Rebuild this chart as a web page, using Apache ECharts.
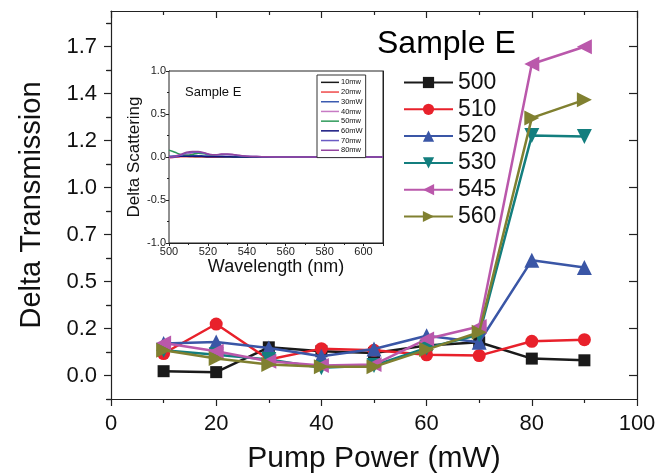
<!DOCTYPE html>
<html>
<head>
<meta charset="utf-8">
<script src="https://cdn.jsdelivr.net/npm/echarts@6/dist/echarts.min.js"></script>
<style>
html,body{margin:0;padding:0;background:#fff;}
#chart{width:659px;height:473px;}
</style>
</head>
<body>
<div id="chart"></div>
<script>
// ---- Main chart data ----
const powers = [10, 20, 30, 40, 50, 60, 70, 80, 90];
const seriesNames = ['500', '510', '520', '530', '545', '560'];
const s500 = [0.023, 0.018, 0.150, 0.129, 0.120, 0.160, 0.177, 0.090, 0.081];
const s510 = [0.117, 0.274, 0.085, 0.143, 0.134, 0.110, 0.106, 0.182, 0.191];
const s520 = [0.170, 0.178, 0.147, 0.102, 0.141, 0.212, 0.177, 0.613, 0.575];
const s530 = [0.134, 0.111, 0.085, 0.041, 0.053, 0.147, 0.217, 1.277, 1.272];
const s545 = [0.173, 0.129, 0.076, 0.053, 0.058, 0.194, 0.261, 1.658, 1.750];
const s560 = [0.134, 0.090, 0.058, 0.046, 0.046, 0.138, 0.230, 1.371, 1.467];
const yTickValues = [0, 0.25, 0.5, 0.75, 1.0, 1.25, 1.5, 1.75];
const yTickLabels = ['0.0', '0.2', '0.5', '0.7', '1.0', '1.2', '1.4', '1.7'];
const yMinorValues = [-0.125, 0.125, 0.375, 0.625, 0.875, 1.125, 1.375, 1.625, 1.875];

// ---- Inset data ----
const wavelengths = [500, 503, 506, 509, 512, 515, 518, 521, 524, 527, 530, 533, 536, 540, 545, 550, 560, 570, 580, 590, 600, 610];
const insetNames = ['10mw', '20mw', '30mW', '40mw', '50mw', '60mW', '70mw', '80mw'];
const i10 = [0.000, 0.005, 0.008, 0.008, 0.005, 0.003, 0.002, 0, 0, 0, 0, 0, 0, 0, 0, 0, 0, 0, 0, 0, 0, 0];
const i20 = [-0.010, -0.004, 0.002, 0.004, 0.004, 0.003, 0.002, 0.001, 0, 0, 0, 0, 0, 0, 0, 0, 0, 0, 0, 0, 0, 0];
const i30 = [0.010, 0.012, 0.015, 0.018, 0.018, 0.015, 0.012, 0.010, 0.008, 0.008, 0.007, 0.005, 0.003, 0.002, 0, 0, 0, 0, 0, 0, 0, 0];
const i40 = [-0.010, 0.000, 0.012, 0.030, 0.045, 0.050, 0.045, 0.030, 0.025, 0.030, 0.030, 0.025, 0.018, 0.010, 0.005, 0.002, 0, 0, 0, 0, 0, 0];
const i50 = [0.080, 0.055, 0.030, 0.020, 0.030, 0.045, 0.038, 0.020, 0.010, 0.006, 0.003, 0.002, 0, 0, 0, 0, 0, 0, 0, 0, 0, 0];
const i60 = [0.000, 0.004, 0.008, 0.010, 0.010, 0.010, 0.006, 0.004, 0.003, 0.003, 0.002, 0.001, 0, 0, 0, 0, 0, 0, 0, 0, 0, 0];
const i70 = [0.000, 0.006, 0.020, 0.045, 0.055, 0.055, 0.045, 0.025, 0.025, 0.030, 0.030, 0.025, 0.015, 0.010, 0.005, 0.002, 0, 0, 0, 0, 0, 0];
const i80 = [0.000, 0.010, 0.030, 0.055, 0.065, 0.065, 0.050, 0.030, 0.025, 0.035, 0.035, 0.030, 0.020, 0.010, 0.005, 0.002, 0, 0, 0, 0, 0, 0];

const mainColors = ['#1a1a1a', '#e8212b', '#3a56a6', '#137e7e', '#ba58ab', '#808030'];
const mainSymbols = ['rect', 'circle', 'triangle', 'triangle', 'triangle', 'triangle'];
const mainRot = [0, 0, 0, 180, 90, -90];
const mainSizes = [12, 13, 15, 15, 15, 15];
const mainData = [s500, s510, s520, s530, s545, s560];

const insetColors = ['#1a1a1a', '#ef4a4a', '#3b5bb0', '#c77ac4', '#2e9a5a', '#14147e', '#6b5cc4', '#93449f'];
const insetData = [i10, i20, i30, i40, i50, i60, i70, i80];

const FONT = 'Liberation Sans, Arial, sans-serif';
const axisColor = '#222';

const chart = echarts.init(document.getElementById('chart'), null, {renderer: 'canvas'});

const series = [];
mainData.forEach((arr, k) => {
  series.push({
    name: seriesNames[k],
    type: 'line',
    xAxisIndex: 0, yAxisIndex: 0,
    data: powers.map((p, i) => [p, arr[i]]),
    symbol: mainSymbols[k],
    symbolRotate: mainRot[k],
    symbolSize: mainSizes[k],
    lineStyle: {color: mainColors[k], width: 2.5},
    itemStyle: {color: mainColors[k]},
    emphasis: {disabled: true},
    z: 3 + k
  });
});
insetData.forEach((arr, k) => {
  series.push({
    name: insetNames[k],
    type: 'line',
    xAxisIndex: 2, yAxisIndex: 4,
    data: wavelengths.map((w, i) => [w, arr[i]]),
    symbol: 'none',
    smooth: 0.4,
    lineStyle: {color: insetColors[k], width: 1.5},
    itemStyle: {color: insetColors[k]},
    emphasis: {disabled: true},
    z: 3
  });
});

const option = {
  animation: false,
  backgroundColor: '#fff',
  textStyle: {fontFamily: FONT},
  grid: [
    {left: 111, top: 11, right: 22, bottom: 74, outerBoundsMode: 'none', containLabel: false},
    {left: 169, top: 71, width: 214, height: 172, outerBoundsMode: 'none', containLabel: false,
     show: true, backgroundColor: '#fff', borderWidth: 1, borderColor: '#222', z: 1}
  ],
  graphic: [
    {type: 'text', left: 377, top: 28, style: {text: 'Sample E', font: '32px ' + FONT, fill: '#000'}, z: 10},
    {type: 'text', left: 185, top: 86, style: {text: 'Sample E', font: '13px ' + FONT, fill: '#111'}, z: 10}
  ],
  legend: [
    {
      data: seriesNames,
      orient: 'vertical',
      left: 403, top: 71,
      padding: 0,
      itemWidth: 49, itemHeight: 14, itemGap: 3.8,
      textStyle: {fontSize: 23, color: '#111', fontFamily: FONT},
      selectedMode: false
    },
    {
      data: insetNames.map(n => ({name: n, icon: 'rect'})),
      orient: 'vertical',
      left: 317, top: 75,
      padding: [3, 3, 3, 4],
      borderColor: '#333', borderWidth: 1, borderRadius: 0,
      backgroundColor: '#fff',
      itemWidth: 18, itemHeight: 1.5, itemGap: 1,
      textStyle: {fontSize: 7.5, color: '#111', fontFamily: FONT, lineHeight: 8.7, padding: [0, 0, 0, -3]},
      selectedMode: false
    }
  ],
  xAxis: [
    {
      gridIndex: 0, type: 'value', position: 'bottom', min: 0, max: 100, interval: 20,
      name: 'Pump Power (mW)', nameLocation: 'middle', nameGap: 45,
      nameTextStyle: {fontSize: 30, color: '#111', fontFamily: FONT},
      axisLine: {show: true, onZero: false, lineStyle: {color: axisColor, width: 1.2}},
      axisTick: {show: true, inside: false, length: 7, lineStyle: {color: axisColor, width: 1.2}},
      minorTick: {show: true, splitNumber: 2, length: 4, lineStyle: {color: axisColor, width: 1.2}},
      axisLabel: {fontSize: 22, color: '#111', margin: 14, fontFamily: FONT},
      splitLine: {show: false}
    },
    {
      gridIndex: 0, type: 'value', position: 'top', min: 0, max: 100, interval: 20,
      axisLine: {show: true, onZero: false, lineStyle: {color: axisColor, width: 1.2}},
      axisTick: {show: true, inside: true, length: 7, lineStyle: {color: axisColor, width: 1.2}},
      minorTick: {show: true, splitNumber: 2, length: 4, lineStyle: {color: axisColor, width: 1.2}},
      axisLabel: {show: false}, splitLine: {show: false}
    },
    {
      gridIndex: 1, type: 'value', position: 'bottom', min: 500, max: 610, interval: 20,
      name: 'Wavelength (nm)', nameLocation: 'middle', nameGap: 15,
      nameTextStyle: {fontSize: 18, color: '#111', fontFamily: FONT},
      axisLine: {show: true, onZero: false, lineStyle: {color: axisColor, width: 1}},
      axisTick: {show: true, inside: false, length: 3, lineStyle: {color: axisColor}},
      minorTick: {show: true, splitNumber: 2, length: 2, lineStyle: {color: axisColor}},
      axisLabel: {fontSize: 11, color: '#222', margin: 3, showMaxLabel: false, fontFamily: FONT},
      splitLine: {show: false}
    },
    {
      gridIndex: 1, type: 'value', position: 'top', min: 500, max: 610, interval: 20,
      axisLine: {show: true, onZero: false, lineStyle: {color: axisColor, width: 1}},
      axisTick: {show: true, inside: true, length: 3, lineStyle: {color: axisColor}},
      minorTick: {show: true, splitNumber: 2, length: 2, lineStyle: {color: axisColor}},
      axisLabel: {show: false}, splitLine: {show: false}
    }
  ],
  yAxis: [
    {
      gridIndex: 0, type: 'value', position: 'left', min: -0.125, max: 1.94,
      name: 'Delta Transmission', nameLocation: 'middle', nameGap: 65,
      nameTextStyle: {fontSize: 29, color: '#111', fontFamily: FONT},
      axisLine: {show: true, onZero: false, lineStyle: {color: axisColor, width: 1.2}},
      axisTick: {show: true, inside: false, length: 7, customValues: yTickValues, lineStyle: {color: axisColor, width: 1.2}},
      axisLabel: {fontSize: 22, color: '#111', margin: 14, customValues: yTickValues, fontFamily: FONT,
        formatter: function (v) { return yTickLabels[Math.round(v / 0.25)]; }},
      splitLine: {show: false}
    },
    {
      gridIndex: 0, type: 'value', position: 'left', min: -0.125, max: 1.94,
      axisLine: {show: false},
      axisTick: {show: true, inside: false, length: 4, customValues: yMinorValues, lineStyle: {color: axisColor, width: 1.2}},
      axisLabel: {show: false, customValues: yMinorValues}, splitLine: {show: false}
    },
    {
      gridIndex: 0, type: 'value', position: 'right', min: -0.125, max: 1.94,
      axisLine: {show: true, onZero: false, lineStyle: {color: axisColor, width: 1.2}},
      axisTick: {show: true, inside: true, length: 8, customValues: yTickValues, lineStyle: {color: axisColor, width: 1.2}},
      axisLabel: {show: false, customValues: yTickValues}, splitLine: {show: false}
    },
    {
      gridIndex: 0, type: 'value', position: 'right', min: -0.125, max: 1.94,
      axisLine: {show: false},
      axisTick: {show: true, inside: true, length: 5, customValues: yMinorValues, lineStyle: {color: axisColor, width: 1.2}},
      axisLabel: {show: false, customValues: yMinorValues}, splitLine: {show: false}
    },
    {
      gridIndex: 1, type: 'value', position: 'left', min: -1, max: 1, interval: 0.5,
      name: 'Delta Scattering', nameLocation: 'middle', nameGap: 25,
      nameTextStyle: {fontSize: 17, color: '#111', fontFamily: FONT},
      axisLine: {show: true, onZero: false, lineStyle: {color: axisColor, width: 1}},
      axisTick: {show: true, inside: false, length: 3, lineStyle: {color: axisColor}},
      minorTick: {show: true, splitNumber: 2, length: 2, lineStyle: {color: axisColor}},
      axisLabel: {fontSize: 11, color: '#222', margin: 3, fontFamily: FONT,
        formatter: function (v) { return v.toFixed(1); }},
      splitLine: {show: false}
    },
    {
      gridIndex: 1, type: 'value', position: 'right', min: -1, max: 1, interval: 0.5,
      axisLine: {show: true, onZero: false, lineStyle: {color: axisColor, width: 1}},
      axisTick: {show: true, inside: true, length: 3, lineStyle: {color: axisColor}},
      minorTick: {show: true, splitNumber: 2, length: 2, lineStyle: {color: axisColor}},
      axisLabel: {show: false}, splitLine: {show: false}
    }
  ],
  series: series
};
chart.setOption(option);
</script>
</body>
</html>
